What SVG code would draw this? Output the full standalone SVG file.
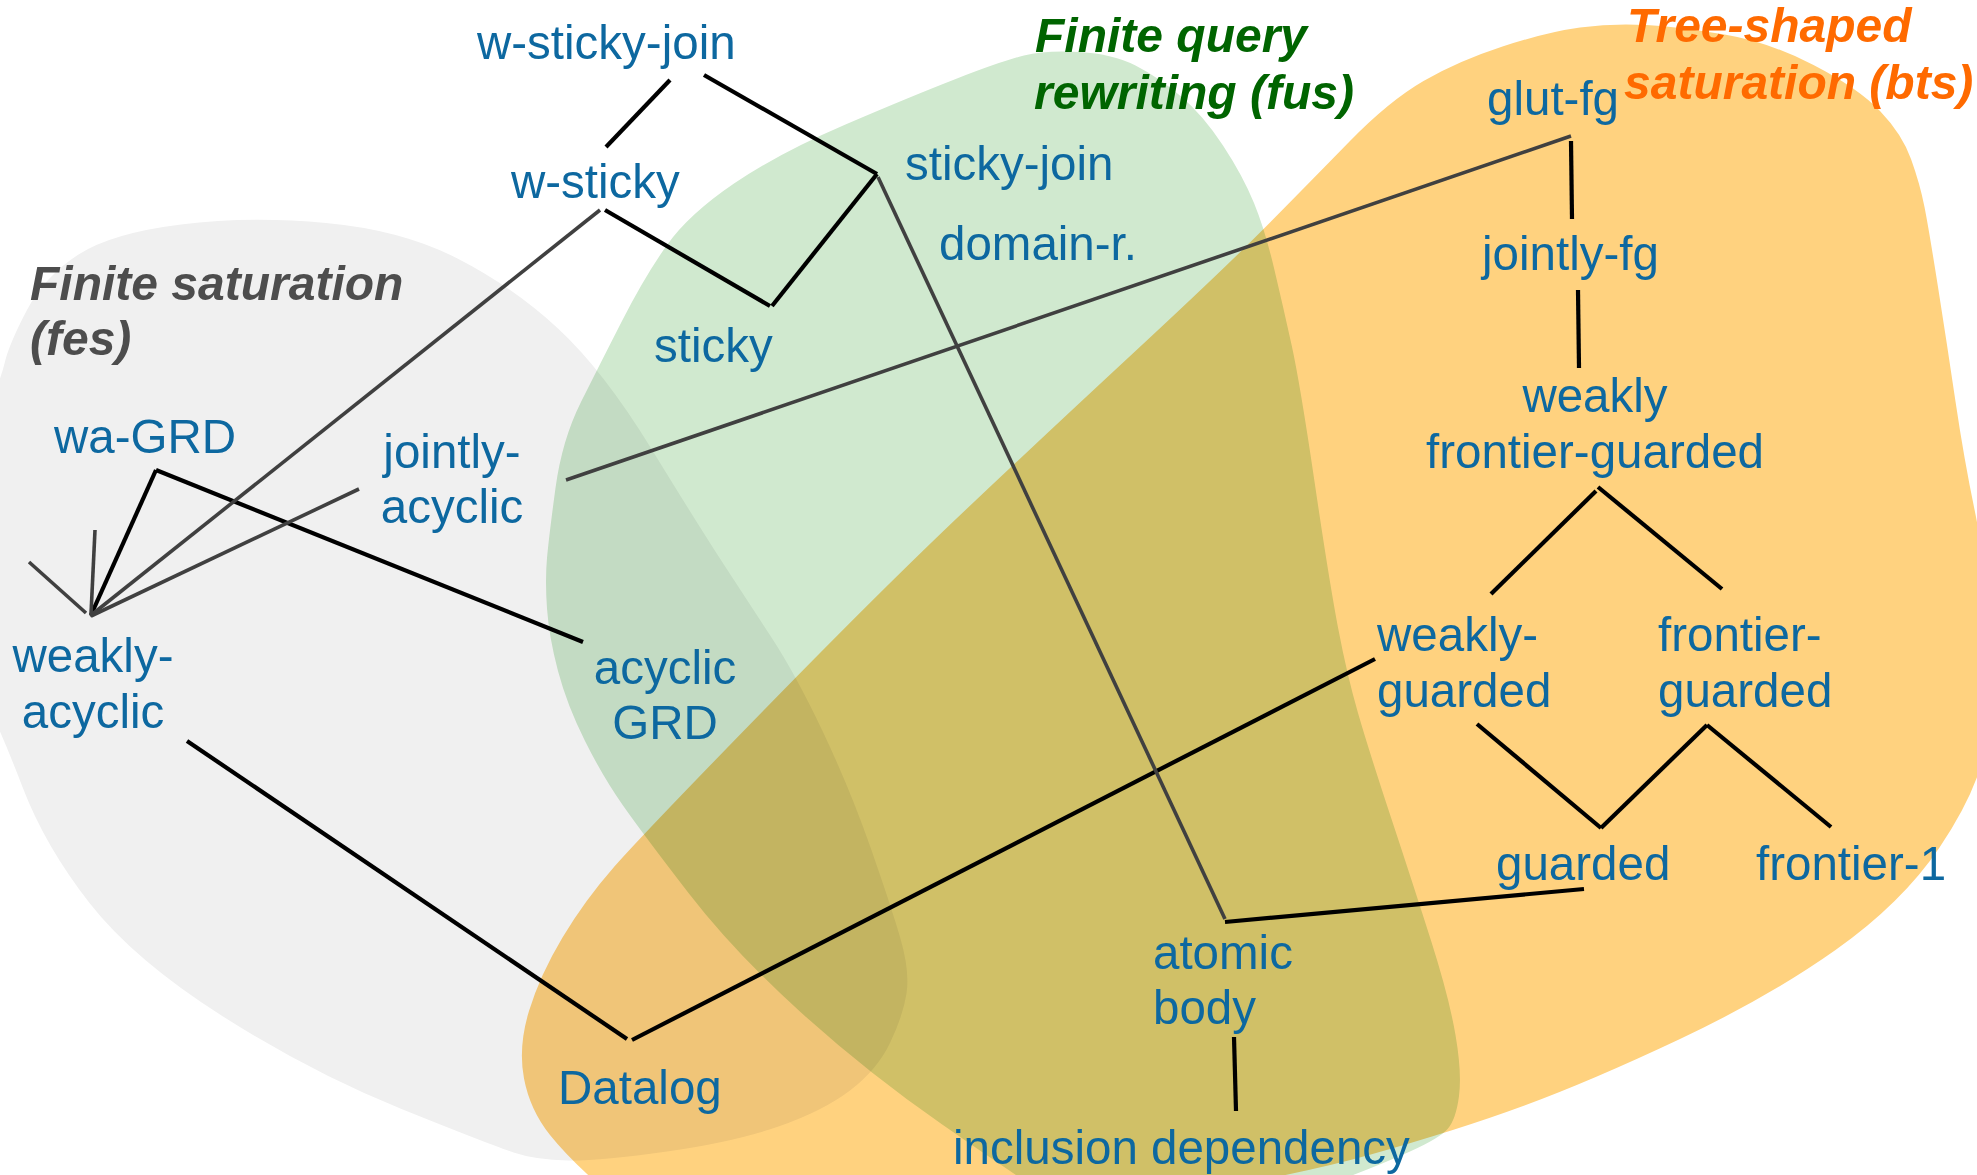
<svg xmlns="http://www.w3.org/2000/svg" width="1977" height="1175" viewBox="0 0 1977 1175">
<style>
.lbl{font-family:"Liberation Sans",Arial,sans-serif;font-size:47.5px;fill:#0d68a0}
.ttl{font-family:"Liberation Sans",Arial,sans-serif;font-size:48px;font-weight:bold;font-style:italic}
.blob{mix-blend-mode:multiply;stroke:none}
.k{stroke:#000;stroke-width:4.2;fill:none}
.g{stroke:#404040;stroke-width:3.6;fill:none}
.mid{text-anchor:middle}
</style>
<rect width="1977" height="1175" fill="#fff"/>
<g id="regions">
<path id="fes-region" class="blob" fill="#f0f0f0" d="M -40,560 Q -40,470 -20,426.5 Q 0,383 4.5,363.5 Q 9,344 27,310 Q 45,276 78.5,254.5 Q 112,233 181,224.5 Q 250,216 326,223 Q 402,230 457.5,258.5 Q 513,287 558,328.5 Q 603,370 651.5,449 Q 700,528 723.5,564 Q 747,600 771.5,637.5 Q 796,675 823,732 Q 850,789 870,846 Q 890,903 900,937 Q 910,971 906.5,993.5 Q 903,1016 890,1043 Q 877,1070 850,1090.5 Q 823,1111 778.5,1126.5 Q 734,1142 667,1151.5 Q 600,1161 568,1160.5 Q 536,1160 513.5,1152.5 Q 491,1145 401.5,1109 Q 312,1073 223,1016.5 Q 134,960 89.5,903 Q 45,846 22.5,787 Q 0,728 -20,689 Q -40,650 -40,560 Z"/>
<path id="fus-region" class="blob" fill="#d0e9cf" d="M 1024,55.5 Q 1046,50 1079.5,52 Q 1113,54 1135.5,65.5 Q 1158,77 1180.5,96 Q 1203,115 1223,145.5 Q 1243,176 1254,203 Q 1265,230 1274,268 Q 1283,306 1291.5,344.5 Q 1300,383 1314.5,481.5 Q 1329,580 1338,627.5 Q 1347,675 1358,713 Q 1369,751 1391,817.5 Q 1413,884 1431,940.5 Q 1449,997 1455.5,1035 Q 1462,1073 1459,1096 Q 1456,1119 1448,1128.5 Q 1440,1138 1410,1151.5 Q 1380,1165 1340,1180 Q 1300,1195 1200,1212.5 Q 1100,1230 1057.5,1202.5 Q 1015,1175 941.5,1124 Q 868,1073 801,1012.5 Q 734,952 688.5,893 Q 643,834 623,805.5 Q 603,777 585,741 Q 567,705 558,671 Q 549,637 547,608.5 Q 545,580 547,558 Q 549,536 555.5,488 Q 562,440 581,402 Q 600,364 622.5,320 Q 645,276 667,245 Q 689,214 734,183.5 Q 779,153 845.5,124.5 Q 912,96 957,78.5 Q 1002,61 1024,55.5 Z"/>
<path id="bts-region" class="blob" fill="#ffd27f" d="M 1349.5,141.5 Q 1389,101 1423.5,81 Q 1458,61 1502.5,46.5 Q 1547,32 1580,27.5 Q 1613,23 1646.5,25 Q 1680,27 1724.5,34.5 Q 1769,42 1813.5,65 Q 1858,88 1880,111 Q 1902,134 1911,159 Q 1920,184 1924.5,207 Q 1929,230 1938,287 Q 1947,344 1955.5,401.5 Q 1964,459 1974.5,509.5 Q 1985,560 1990,630 Q 1995,700 1986,746 Q 1977,792 1939.5,847.5 Q 1902,903 1835.5,950 Q 1769,997 1680,1039 Q 1591,1081 1524.5,1105.5 Q 1458,1130 1369,1155 Q 1280,1180 1090,1210 Q 900,1240 770,1230 Q 640,1220 605,1190 Q 570,1160 550,1135 Q 530,1110 524,1078.5 Q 518,1047 529,1011 Q 540,975 562.5,937.5 Q 585,900 614,867 Q 643,834 764,710 Q 885,586 965.5,510 Q 1046,434 1135.5,351 Q 1225,268 1267.5,225 Q 1310,182 1349.5,141.5 Z"/>
</g>
<g id="titles">
<text class="ttl" fill="#4d4d4d"><tspan x="30" y="300">Finite saturation</tspan><tspan x="30" y="355">(fes)</tspan></text>
<text class="ttl" fill="#006400"><tspan x="1035" y="52">Finite query</tspan><tspan x="1034" y="109">rewriting (fus)</tspan></text>
<text class="ttl" fill="#ff6a00"><tspan x="1627" y="42">Tree-shaped</tspan><tspan x="1624" y="99">saturation (bts)</tspan></text>
</g>
<g id="connectors">
<line class="k" x1="670" y1="80" x2="606" y2="147"/>
<line class="k" x1="704" y1="75" x2="877" y2="174"/>
<line class="k" x1="605" y1="210" x2="770" y2="306"/>
<line class="k" x1="772" y1="306" x2="877" y2="174"/>
<line class="k" x1="156" y1="470" x2="583" y2="642"/>
<line class="k" x1="156" y1="470" x2="91" y2="615"/>
<line class="k" x1="187" y1="741" x2="627" y2="1039"/>
<line class="k" x1="632" y1="1040" x2="1375" y2="659"/>
<line class="k" x1="1225" y1="922" x2="1584" y2="889"/>
<line class="k" x1="1234" y1="1037" x2="1236" y2="1111"/>
<line class="k" x1="1571" y1="141" x2="1572" y2="219"/>
<line class="k" x1="1578" y1="290" x2="1579" y2="368"/>
<line class="k" x1="1596" y1="491" x2="1491" y2="594"/>
<line class="k" x1="1598" y1="487" x2="1722" y2="589"/>
<line class="k" x1="1477" y1="724" x2="1601" y2="828"/>
<line class="k" x1="1601" y1="828" x2="1707" y2="725"/>
<line class="k" x1="1707" y1="725" x2="1831" y2="827"/>
<line class="g" x1="600" y1="210" x2="90" y2="616"/>
<line class="g" x1="359" y1="489" x2="91" y2="616"/>
<line class="g" x1="566" y1="480" x2="1571" y2="136"/>
<line class="g" x1="878" y1="177" x2="1225" y2="919"/>
<line class="g" x1="29" y1="562" x2="86" y2="613"/>
<line class="g" x1="95" y1="530" x2="91" y2="614"/>
</g>
<g id="n-w-sticky-join"><text class="lbl" x="477" y="59">w-sticky-join</text></g>
<g id="n-w-sticky"><text class="lbl" x="511" y="198">w-sticky</text></g>
<g id="n-sticky-join"><text class="lbl" x="905" y="180">sticky-join</text></g>
<g id="n-domain-r"><text class="lbl" x="939" y="260">domain-r.</text></g>
<g id="n-sticky"><text class="lbl" x="654" y="362">sticky</text></g>
<g id="n-wa-GRD"><text class="lbl" x="54" y="453">wa-GRD</text></g>
<g id="n-jointly-acyclic"><text class="lbl mid"><tspan x="452" y="468">jointly-</tspan><tspan x="452" y="523">acyclic</tspan></text></g>
<g id="n-weakly-acyclic"><text class="lbl mid"><tspan x="93" y="672">weakly-</tspan><tspan x="93" y="728">acyclic</tspan></text></g>
<g id="n-acyclic-GRD"><text class="lbl mid"><tspan x="665" y="684">acyclic</tspan><tspan x="665" y="739">GRD</tspan></text></g>
<g id="n-datalog"><text class="lbl" x="558" y="1104">Datalog</text></g>
<g id="n-atomic-body"><text class="lbl"><tspan x="1153" y="969">atomic</tspan><tspan x="1153" y="1024">body</tspan></text></g>
<g id="n-inclusion-dependency"><text class="lbl" x="953" y="1164">inclusion dependency</text></g>
<g id="n-glut-fg"><text class="lbl" x="1487" y="115">glut-fg</text></g>
<g id="n-jointly-fg"><text class="lbl" x="1482" y="270">jointly-fg</text></g>
<g id="n-weakly-frontier-guarded"><text class="lbl mid"><tspan x="1595" y="412">weakly</tspan><tspan x="1595" y="468">frontier-guarded</tspan></text></g>
<g id="n-weakly-guarded"><text class="lbl"><tspan x="1377" y="651">weakly-</tspan><tspan x="1377" y="707">guarded</tspan></text></g>
<g id="n-frontier-guarded"><text class="lbl"><tspan x="1658" y="651">frontier-</tspan><tspan x="1658" y="707">guarded</tspan></text></g>
<g id="n-guarded"><text class="lbl" x="1496" y="880">guarded</text></g>
<g id="n-frontier-1"><text class="lbl" x="1756" y="880">frontier-1</text></g>
</svg>
